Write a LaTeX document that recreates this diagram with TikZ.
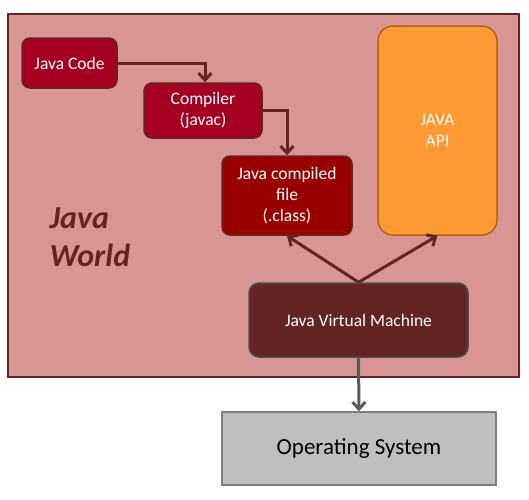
\documentclass[tikz,border=0pt]{standalone}
\usepackage{fontspec}
\setmainfont{Carlito}
\usepackage{xcolor}
\usetikzlibrary{positioning, calc, arrows.meta}
\definecolor{worldpink}{HTML}{D99594}
\definecolor{maroon}{HTML}{632523}
\definecolor{crimson}{HTML}{A50021}
\definecolor{darkred}{HTML}{990000}
\definecolor{apiorange}{HTML}{FF9933}
\definecolor{apiedge}{HTML}{B4600F}
\definecolor{osgray}{HTML}{BFBFBF}
\definecolor{osedge}{HTML}{7F7F7F}

\begin{document}
\begin{tikzpicture}[x=1pt, y=-1pt]
\useasboundingbox (0,0) rectangle (529,499);
\tikzstyle{box}=[rectangle, rounded corners=8pt, draw=maroon, line width=1.5pt, text=white, align=center, font=\fontsize{17.5}{21}\selectfont, inner sep=0pt]
\tikzstyle{flow}=[line width=3pt, draw=maroon, -{Straight Barb[length=7pt, width=13pt]}]
%%
\node (world) at (263.5, 195.5) [rectangle, draw=maroon, line width=2pt, fill=worldpink, minimum width=511pt, minimum height=363pt] {};
\node (code) at (69.5, 63) [box, fill=crimson, minimum width=95pt, minimum height=50pt] {Java Code};
\node (comp) at (203, 110.5) [box, fill=crimson, minimum width=118pt, minimum height=55pt] {Compiler\\(javac)};
\node (cls) at (287, 195.5) [box, fill=darkred, minimum width=130pt, minimum height=79pt] {Java compiled\\file\\(.class)};
\node (api) at (437.5, 130.5) [box, fill=apiorange, draw=apiedge, rounded corners=15pt, minimum width=119pt, minimum height=209pt] {JAVA\\API};
\node (jvm) at (358.5, 320) [box, fill=maroon, draw=black!70, rounded corners=10pt, minimum width=219pt, minimum height=74pt] {Java Virtual Machine};
\node (os) at (359, 448.5) [rectangle, draw=osedge, line width=1.5pt, fill=osgray, minimum width=274pt, minimum height=73pt, font=\fontsize{23}{27}\selectfont] {Operating System};

\node [anchor=west, align=left, text=maroon, font=\fontsize{32}{38}\bfseries\itshape] (jw) at (46, 237) {Java\\World};

\draw [flow] (code.east) -| ([xshift=2pt]comp.north);
\draw [flow] (comp.east) -| (cls.north);
\draw [flow] (jvm.north) -- (cls.south);
\draw [flow] (jvm.north) -- (api.south);
\draw [flow, draw=black!65] (jvm.south) -- (os.north);
\end{tikzpicture}
\end{document}
